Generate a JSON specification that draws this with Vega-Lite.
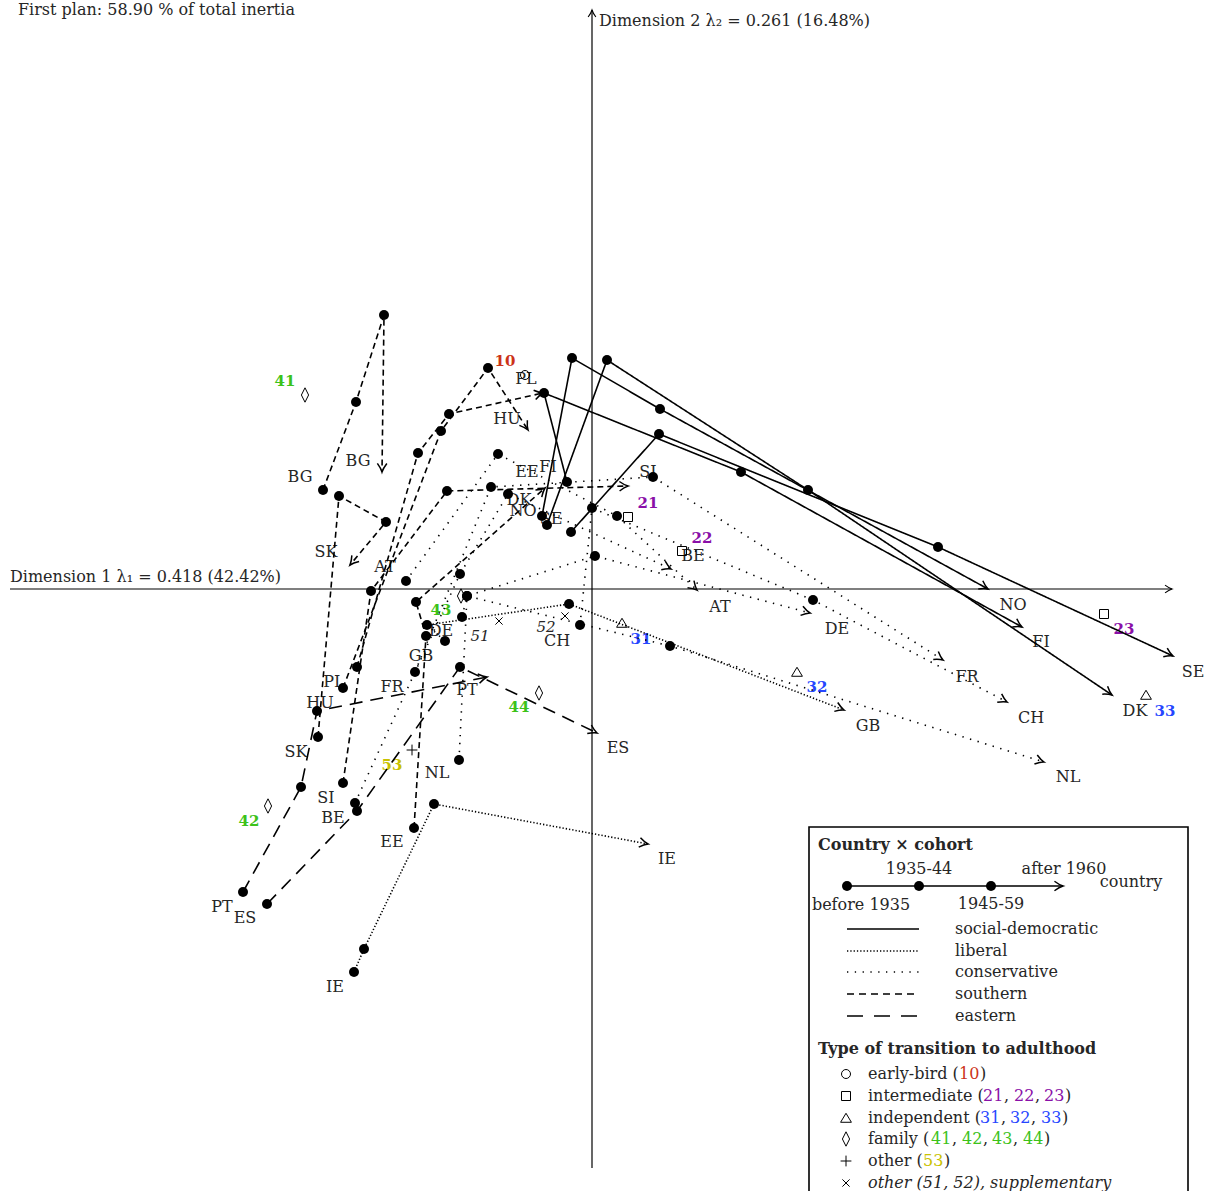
{
"$schema":"https://vega.github.io/schema/vega-lite/v6.json",
"width":1207,"height":1191,
"autosize":{"type":"none"},
"padding":0,
"background":"white",
"config":{"view":{"stroke":null},"text":{"font":"DejaVu Serif","fontSize":16,"color":"#262626"}},
"datasets":{
"traj":[
{"c":"NO","r":"social-democratic","o":1,"x":-0.50,"y":0.73},{"c":"NO","r":"social-democratic","o":2,"x":-0.20,"y":2.31},{"c":"NO","r":"social-democratic","o":3,"x":0.68,"y":1.80},{"c":"NO","r":"social-democratic","o":4,"x":3.96,"y":0.00},
{"c":"DK","r":"social-democratic","o":1,"x":-0.45,"y":0.64},{"c":"DK","r":"social-democratic","o":2,"x":0.15,"y":2.29},{"c":"DK","r":"social-democratic","o":3,"x":2.16,"y":0.99},{"c":"DK","r":"social-democratic","o":4,"x":5.20,"y":-1.06},
{"c":"FI","r":"social-democratic","o":1,"x":-0.25,"y":1.07},{"c":"FI","r":"social-democratic","o":2,"x":-0.48,"y":1.96},{"c":"FI","r":"social-democratic","o":3,"x":1.49,"y":1.17},{"c":"FI","r":"social-democratic","o":4,"x":4.30,"y":-0.38},
{"c":"SE","r":"social-democratic","o":1,"x":-0.21,"y":0.57},{"c":"SE","r":"social-democratic","o":2,"x":0.67,"y":1.55},{"c":"SE","r":"social-democratic","o":3,"x":3.46,"y":0.42},{"c":"SE","r":"social-democratic","o":4,"x":5.81,"y":-0.67},
{"c":"IE","r":"liberal","o":1,"x":-2.38,"y":-3.83},{"c":"IE","r":"liberal","o":2,"x":-2.28,"y":-3.60},{"c":"IE","r":"liberal","o":3,"x":-1.58,"y":-2.15},{"c":"IE","r":"liberal","o":4,"x":0.56,"y":-2.55},
{"c":"GB","r":"liberal","o":1,"x":-1.47,"y":-0.52},{"c":"GB","r":"liberal","o":2,"x":-1.65,"y":-0.36},{"c":"GB","r":"liberal","o":3,"x":-0.23,"y":-0.15},{"c":"GB","r":"liberal","o":4,"x":2.52,"y":-1.21},
{"c":"AT","r":"conservative","o":1,"x":-1.86,"y":0.08},{"c":"AT","r":"conservative","o":2,"x":-0.94,"y":1.35},{"c":"AT","r":"conservative","o":3,"x":0.25,"y":0.73},{"c":"AT","r":"conservative","o":4,"x":1.05,"y":-0.01},
{"c":"BE","r":"conservative","o":1,"x":-2.37,"y":-2.14},{"c":"BE","r":"conservative","o":2,"x":-1.32,"y":0.15},{"c":"BE","r":"conservative","o":3,"x":-0.84,"y":0.95},{"c":"BE","r":"conservative","o":4,"x":0.79,"y":0.20},
{"c":"DE","r":"conservative","o":1,"x":-1.30,"y":-0.28},{"c":"DE","r":"conservative","o":2,"x":-1.25,"y":-0.07},{"c":"DE","r":"conservative","o":3,"x":0.03,"y":0.33},{"c":"DE","r":"conservative","o":4,"x":2.18,"y":-0.24},
{"c":"FR","r":"conservative","o":1,"x":-1.77,"y":-0.83},{"c":"FR","r":"conservative","o":2,"x":-1.01,"y":1.02},{"c":"FR","r":"conservative","o":3,"x":0.61,"y":1.12},{"c":"FR","r":"conservative","o":4,"x":3.51,"y":-0.71},
{"c":"CH","r":"conservative","o":1,"x":-0.12,"y":-0.36},{"c":"CH","r":"conservative","o":2,"x":0.00,"y":0.81},{"c":"CH","r":"conservative","o":3,"x":2.21,"y":-0.11},{"c":"CH","r":"conservative","o":4,"x":4.15,"y":-1.13},
{"c":"NL","r":"conservative","o":1,"x":-1.33,"y":-1.71},{"c":"NL","r":"conservative","o":2,"x":-1.25,"y":-0.07},{"c":"NL","r":"conservative","o":3,"x":0.78,"y":-0.57},{"c":"NL","r":"conservative","o":4,"x":4.52,"y":-1.73},
{"c":"BG","r":"eastern","o":1,"x":-2.69,"y":0.99},{"c":"BG","r":"eastern","o":2,"x":-2.36,"y":1.87},{"c":"BG","r":"eastern","o":3,"x":-2.08,"y":2.74},{"c":"BG","r":"eastern","o":4,"x":-2.10,"y":1.17},
{"c":"SK","r":"eastern","o":1,"x":-2.74,"y":-1.48},{"c":"SK","r":"eastern","o":2,"x":-2.53,"y":0.93},{"c":"SK","r":"eastern","o":3,"x":-2.06,"y":0.67},{"c":"SK","r":"eastern","o":4,"x":-2.42,"y":0.24},
{"c":"HU","r":"eastern","o":1,"x":-2.49,"y":-0.99},{"c":"HU","r":"eastern","o":2,"x":-1.51,"y":1.58},{"c":"HU","r":"eastern","o":3,"x":-1.04,"y":2.21},{"c":"HU","r":"eastern","o":4,"x":-0.64,"y":1.59},
{"c":"PL","r":"eastern","o":1,"x":-2.35,"y":-0.78},{"c":"PL","r":"eastern","o":2,"x":-1.74,"y":1.36},{"c":"PL","r":"eastern","o":3,"x":-1.43,"y":1.75},{"c":"PL","r":"eastern","o":4,"x":-0.49,"y":1.96},
{"c":"SI","r":"eastern","o":1,"x":-2.49,"y":-1.94},{"c":"SI","r":"eastern","o":2,"x":-2.21,"y":-0.02},{"c":"SI","r":"eastern","o":3,"x":-1.45,"y":0.98},{"c":"SI","r":"eastern","o":4,"x":0.36,"y":1.03},
{"c":"EE","r":"eastern","o":1,"x":-1.78,"y":-2.39},{"c":"EE","r":"eastern","o":2,"x":-1.66,"y":-0.47},{"c":"EE","r":"eastern","o":3,"x":-1.76,"y":-0.13},{"c":"EE","r":"eastern","o":4,"x":-0.47,"y":1.01},
{"c":"PT","r":"southern","o":1,"x":-3.49,"y":-3.03},{"c":"PT","r":"southern","o":2,"x":-2.91,"y":-1.98},{"c":"PT","r":"southern","o":3,"x":-2.75,"y":-1.22},{"c":"PT","r":"southern","o":4,"x":-1.05,"y":-0.88},
{"c":"ES","r":"southern","o":1,"x":-3.25,"y":-3.15},{"c":"ES","r":"southern","o":2,"x":-2.35,"y":-2.22},{"c":"ES","r":"southern","o":3,"x":-1.32,"y":-0.78},{"c":"ES","r":"southern","o":4,"x":0.05,"y":-1.44},
{"c":"country","r":"social-democratic","o":1,"x":2.55,"y":-2.97},{"c":"country","r":"social-democratic","o":2,"x":3.27,"y":-2.97},{"c":"country","r":"social-democratic","o":3,"x":3.99,"y":-2.97},{"c":"country","r":"social-democratic","o":4,"x":4.71,"y":-2.97}
],
"axes":[
{"c":"d1","o":1,"x":-5.82,"y":0},{"c":"d1","o":2,"x":5.80,"y":0},
{"c":"d2","o":1,"x":0,"y":-5.79},{"c":"d2","o":2,"x":0,"y":5.79}
],
"ctext":[
{"t":"BG","x":-2.92,"y":1.12},{"t":"SK","x":-2.96,"y":-1.63},{"t":"HU","x":-2.72,"y":-1.14},{"t":"PL","x":-2.58,"y":-0.93},{"t":"SI","x":-2.66,"y":-2.09},{"t":"EE","x":-2.00,"y":-2.53},{"t":"PT","x":-3.70,"y":-3.18},{"t":"ES","x":-3.47,"y":-3.29},{"t":"IE","x":-2.57,"y":-3.98},{"t":"BE","x":-2.59,"y":-2.29},{"t":"NL","x":-1.55,"y":-1.84},{"t":"FR","x":-2.00,"y":-0.98},{"t":"GB","x":-1.71,"y":-0.67},{"t":"DE","x":-1.51,"y":-0.42},{"t":"CH","x":-0.35,"y":-0.52},{"t":"AT","x":-2.07,"y":0.22},{"t":"DK","x":-0.73,"y":0.89},{"t":"NO","x":-0.69,"y":0.78},{"t":"FI","x":-0.44,"y":1.22},{"t":"SE","x":-0.41,"y":0.70},
{"t":"BG","x":-2.34,"y":1.28},{"t":"SK","x":-2.66,"y":0.37},{"t":"HU","x":-0.85,"y":1.70},{"t":"PL","x":-0.66,"y":2.10},{"t":"SI","x":0.56,"y":1.17},{"t":"EE","x":-0.65,"y":1.17},{"t":"PT","x":-1.25,"y":-1.01},{"t":"ES","x":0.26,"y":-1.59},{"t":"IE","x":0.75,"y":-2.70},{"t":"BE","x":1.01,"y":0.33},{"t":"NL","x":4.76,"y":-1.88},{"t":"FR","x":3.75,"y":-0.88},{"t":"GB","x":2.76,"y":-1.37},{"t":"DE","x":2.45,"y":-0.40},{"t":"CH","x":4.39,"y":-1.29},{"t":"AT","x":1.28,"y":-0.18},{"t":"DK","x":5.43,"y":-1.22},{"t":"NO","x":4.21,"y":-0.16},{"t":"FI","x":4.49,"y":-0.53},{"t":"SE","x":6.01,"y":-0.83},
{"t":"1935-44","x":3.27,"y":-2.80},{"t":"after 1960","x":4.72,"y":-2.80},{"t":"country","x":5.39,"y":-2.93},{"t":"before 1935","x":2.69,"y":-3.16},{"t":"1945-59","x":3.99,"y":-3.15}
],
"ltext":[
{"t":"Dimension 1 λ₁ = 0.418 (42.42%)","x":-5.82,"y":0.12},
{"t":"Dimension 2 λ₂ = 0.261 (16.48%)","x":0.07,"y":5.68},
{"t":"First plan: 58.90 % of total inertia","x":-5.74,"y":5.79},
{"t":"social-democratic","x":3.63,"y":-3.40},{"t":"liberal","x":3.63,"y":-3.62},{"t":"conservative","x":3.63,"y":-3.83},{"t":"southern","x":3.63,"y":-4.05},{"t":"eastern","x":3.63,"y":-4.27},
{"t":"early-bird (","x":2.76,"y":-4.85},{"t":")","x":3.88,"y":-4.85},
{"t":"intermediate (","x":2.76,"y":-5.07},{"t":",","x":4.12,"y":-5.07},{"t":",","x":4.43,"y":-5.07},{"t":")","x":4.73,"y":-5.07},
{"t":"independent (","x":2.76,"y":-5.29},{"t":",","x":4.09,"y":-5.29},{"t":",","x":4.39,"y":-5.29},{"t":")","x":4.70,"y":-5.29},
{"t":"family (","x":2.76,"y":-5.50},{"t":",","x":3.60,"y":-5.50},{"t":",","x":3.91,"y":-5.50},{"t":",","x":4.21,"y":-5.50},{"t":")","x":4.52,"y":-5.50},
{"t":"other (","x":2.76,"y":-5.72},{"t":")","x":3.52,"y":-5.72}
],
"btext":[
{"t":"Country × cohort","x":2.26,"y":-2.56},
{"t":"Type of transition to adulthood","x":2.26,"y":-4.60}
],
"itext":[
{"t":"other (51, 52), supplementary","x":2.76,"y":-5.94}
],
"legnum":[
{"t":"10","g":"early-bird","x":3.67,"y":-4.85},
{"t":"21","g":"intermediate","x":3.91,"y":-5.07},{"t":"22","g":"intermediate","x":4.22,"y":-5.07},{"t":"23","g":"intermediate","x":4.52,"y":-5.07},
{"t":"31","g":"independent","x":3.88,"y":-5.29},{"t":"32","g":"independent","x":4.18,"y":-5.29},{"t":"33","g":"independent","x":4.49,"y":-5.29},
{"t":"41","g":"family","x":3.39,"y":-5.50},{"t":"42","g":"family","x":3.70,"y":-5.50},{"t":"43","g":"family","x":4.00,"y":-5.50},{"t":"44","g":"family","x":4.31,"y":-5.50},
{"t":"53","g":"other","x":3.31,"y":-5.72}
],
"mlab":[
{"t":"10","g":"early-bird","x":-0.87,"y":2.28},
{"t":"21","g":"intermediate","x":0.56,"y":0.86},{"t":"22","g":"intermediate","x":1.10,"y":0.51},{"t":"23","g":"intermediate","x":5.32,"y":-0.40},
{"t":"31","g":"independent","x":0.49,"y":-0.50},{"t":"32","g":"independent","x":2.25,"y":-0.98},{"t":"33","g":"independent","x":5.73,"y":-1.22},
{"t":"41","g":"family","x":-3.07,"y":2.08},{"t":"42","g":"family","x":-3.43,"y":-2.32},{"t":"43","g":"family","x":-1.51,"y":-0.21},{"t":"44","g":"family","x":-0.73,"y":-1.18},
{"t":"53","g":"other","x":-2.00,"y":-1.76}
],
"slab":[
{"t":"51","x":-1.12,"y":-0.47},{"t":"52","x":-0.46,"y":-0.38}
],
"marks":[
{"g":"early-bird","x":-0.67,"y":2.14},
{"g":"intermediate","x":0.36,"y":0.72},{"g":"intermediate","x":0.90,"y":0.38},{"g":"intermediate","x":5.12,"y":-0.25},
{"g":"independent","x":0.30,"y":-0.34},{"g":"independent","x":2.05,"y":-0.83},{"g":"independent","x":5.54,"y":-1.06},
{"g":"family","x":-2.87,"y":1.94},{"g":"family","x":-3.24,"y":-2.17},{"g":"family","x":-1.31,"y":-0.07},{"g":"family","x":-0.53,"y":-1.04},
{"g":"other","x":-1.80,"y":-1.61},
{"g":"supplementary","x":-0.93,"y":-0.32},{"g":"supplementary","x":-0.27,"y":-0.27},
{"g":"early-bird","x":2.54,"y":-4.85},{"g":"intermediate","x":2.54,"y":-5.07},{"g":"independent","x":2.54,"y":-5.29},{"g":"family","x":2.54,"y":-5.50},{"g":"other","x":2.54,"y":-5.72},{"g":"supplementary","x":2.54,"y":-5.94}
],
"legline":[
{"r":"social-democratic","x":2.55,"x2":3.27,"y":-3.40},
{"r":"liberal","x":2.55,"x2":3.27,"y":-3.62},
{"r":"conservative","x":2.55,"x2":3.27,"y":-3.83},
{"r":"southern","x":2.55,"x2":3.27,"y":-4.05},
{"r":"eastern","x":2.55,"x2":3.27,"y":-4.27}
],
"box":[{"x":2.17,"x2":5.96,"y":-2.38,"y2":-6.11}]
},
"encoding":{
"x":{"field":"x","type":"quantitative","scale":{"domain":[-5.92,6.15],"nice":false,"zero":false},"axis":null},
"y":{"field":"y","type":"quantitative","scale":{"domain":[-6.02,5.89],"nice":false,"zero":false},"axis":null}
},
"layer":[
{"data":{"name":"axes"},"mark":{"type":"line","color":"black","strokeWidth":1.2},"encoding":{"detail":{"field":"c"},"order":{"field":"o"}}},
{"data":{"name":"axes"},
 "transform":[{"window":[{"op":"lag","field":"x","param":1,"as":"px"},{"op":"lag","field":"y","param":1,"as":"py"}],"groupby":["c"],"sort":[{"field":"o","order":"ascending"}]},{"filter":"datum.o == 2"},{"calculate":"atan2(datum.py - datum.y, datum.x - datum.px) * 180 / PI","as":"ang"}],
 "mark":{"type":"point","shape":"M-1.8,-1Q-0.8,-0.25 0,0Q-0.8,0.25 -1.8,1","filled":false,"color":"black","strokeWidth":1.1,"size":60,"opacity":1},
 "encoding":{"angle":{"field":"ang","type":"quantitative","scale":null}}},
{"data":{"name":"ctext"},"mark":{"type":"text","baseline":"middle"},"encoding":{"text":{"field":"t"}}},
{"data":{"name":"ltext"},"mark":{"type":"text","baseline":"middle","align":"left"},"encoding":{"text":{"field":"t"}}},
{"data":{"name":"btext"},"mark":{"type":"text","baseline":"middle","align":"left","fontWeight":"bold"},"encoding":{"text":{"field":"t"}}},
{"data":{"name":"itext"},"mark":{"type":"text","baseline":"middle","align":"left","fontStyle":"italic"},"encoding":{"text":{"field":"t"}}},
{"data":{"name":"legnum"},"mark":{"type":"text","baseline":"middle","align":"left"},"encoding":{"text":{"field":"t"},"color":{"field":"g","type":"nominal","scale":{"domain":["early-bird","intermediate","independent","family","other"],"range":["#cc3318","#8a10a8","#2646ff","#3cc21a","#c9c200"]},"legend":null}}},
{"data":{"name":"mlab"},"mark":{"type":"text","baseline":"middle","fontWeight":"bold","fontSize":15},"encoding":{"text":{"field":"t"},"color":{"field":"g","type":"nominal","scale":{"domain":["early-bird","intermediate","independent","family","other"],"range":["#cc3318","#8a10a8","#2646ff","#3cc21a","#c9c200"]},"legend":null}}},
{"data":{"name":"slab"},"mark":{"type":"text","baseline":"middle","fontStyle":"italic","fontSize":15},"encoding":{"text":{"field":"t"}}},
{"data":{"name":"box"},"mark":{"type":"rect","fill":"transparent","stroke":"black","strokeWidth":1.6},"encoding":{"x2":{"field":"x2"},"y2":{"field":"y2"}}},
{"data":{"name":"legline"},"mark":{"type":"rule","color":"black","strokeWidth":1.6},"encoding":{"x2":{"field":"x2"},"strokeDash":{"field":"r","type":"nominal","scale":{"domain":["social-democratic","liberal","conservative","southern","eastern"],"range":[[1,0],[1.3,2],[1.3,6.5],[7,5],[16,11]]},"legend":null}}},
{"data":{"name":"traj"},"mark":{"type":"line","color":"black","strokeWidth":1.6},"encoding":{"detail":{"field":"c"},"order":{"field":"o"},"strokeDash":{"field":"r","type":"nominal","scale":{"domain":["social-democratic","liberal","conservative","southern","eastern"],"range":[[1,0],[1.3,2],[1.4,6.5],[13,8],[6,4]]},"legend":null}}},
{"data":{"name":"traj"},"transform":[{"filter":"datum.o < 4"}],"mark":{"type":"point","shape":"circle","filled":true,"color":"black","size":100,"opacity":1}},
{"data":{"name":"traj"},
 "transform":[{"window":[{"op":"lag","field":"x","param":1,"as":"px"},{"op":"lag","field":"y","param":1,"as":"py"}],"groupby":["c"],"sort":[{"field":"o","order":"ascending"}]},{"filter":"datum.o == 4"},{"calculate":"atan2(datum.py - datum.y, datum.x - datum.px) * 180 / PI","as":"ang"}],
 "mark":{"type":"point","shape":"M-1.8,-1Q-0.8,-0.25 0,0Q-0.8,0.25 -1.8,1","filled":false,"color":"black","strokeWidth":1.5,"size":90,"opacity":1},
 "encoding":{"angle":{"field":"ang","type":"quantitative","scale":null}}},
{"data":{"name":"marks"},"mark":{"type":"point","filled":false,"color":"black","strokeWidth":1,"size":81,"opacity":1},
 "encoding":{"shape":{"field":"g","type":"nominal","scale":{"domain":["early-bird","intermediate","independent","family","other","supplementary"],"range":["circle","square","M0,-1.05L1.2,0.95L-1.2,0.95Z","M0,-1.6L0.8,0L0,1.6L-0.8,0Z","M-1.2,0L1.2,0M0,-1.2L0,1.2","M-0.8,-0.8L0.8,0.8M-0.8,0.8L0.8,-0.8"]},"legend":null}}}
],
"resolve":{"scale":{"strokeDash":"independent","color":"independent"}}
}
